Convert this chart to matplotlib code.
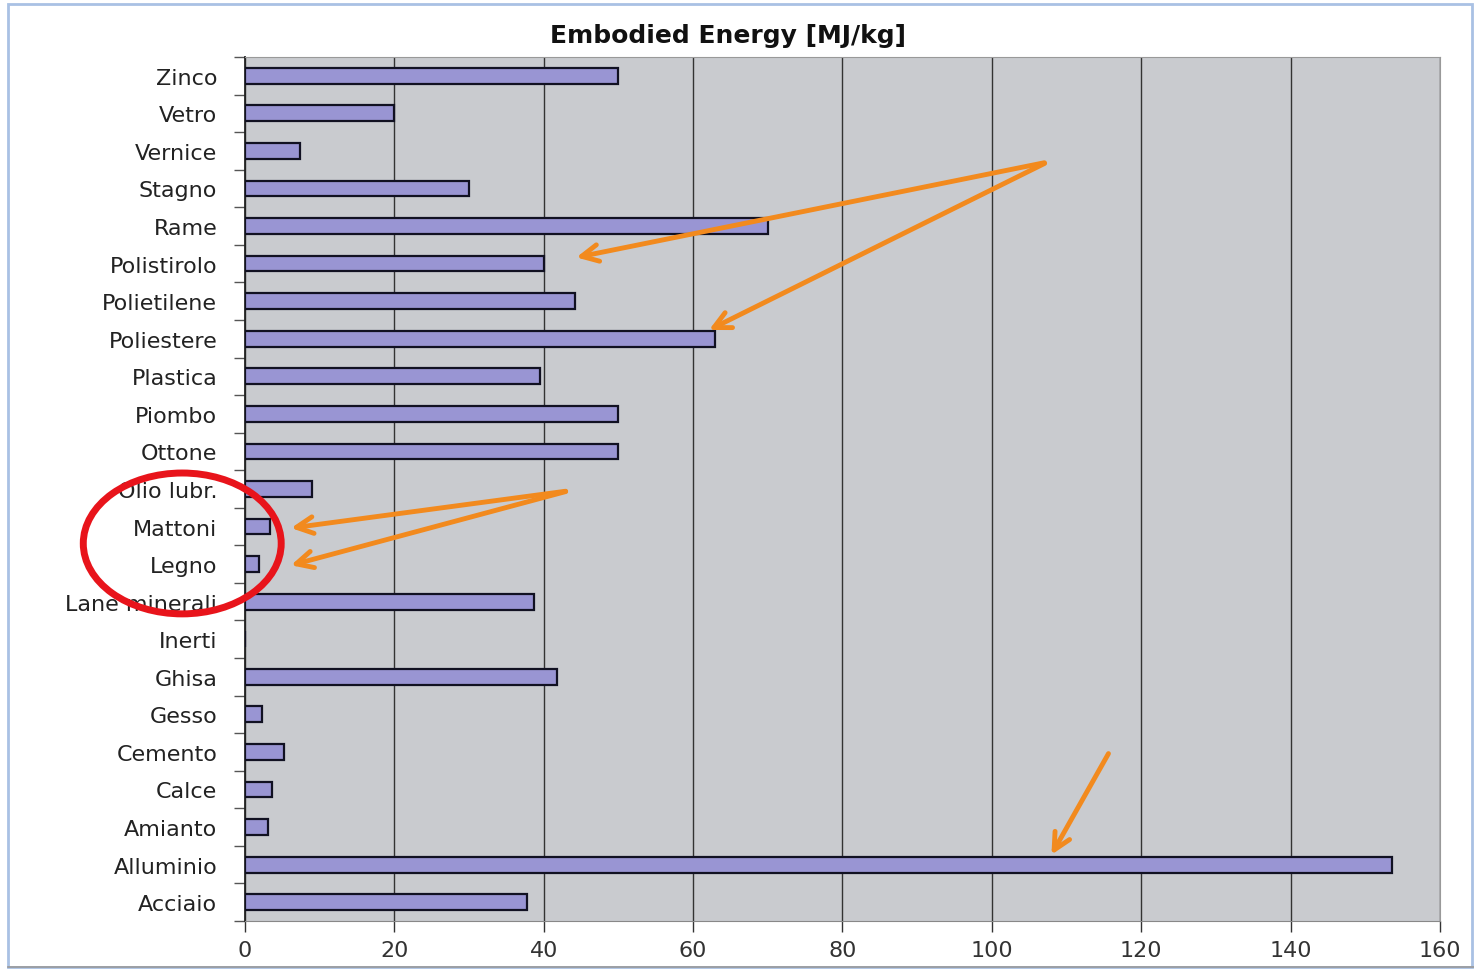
import matplotlib
matplotlib.use("Agg")
import matplotlib.pyplot as plt
from matplotlib.patches import Ellipse, Rectangle

# Materials, top to bottom as in the chart
materials = ["Zinco", "Vetro", "Vernice", "Stagno", "Rame", "Polistirolo",
             "Polietilene", "Poliestere", "Plastica", "Piombo", "Ottone",
             "Olio lubr.", "Mattoni", "Legno", "Lane minerali", "Inerti",
             "Ghisa", "Gesso", "Cemento", "Calce", "Amianto", "Alluminio",
             "Acciaio"]
energy = [50, 20, 7.4, 30, 70, 40, 44.2, 63, 39.5, 50, 50, 9, 3.4, 1.9,
          38.7, 0, 41.8, 2.3, 5.2, 3.6, 3.1, 153.6, 37.8]
x_ticks = [0, 20, 40, 60, 80, 100, 120, 140, 160]

# Arrows added on top of the chart: (tail x, tail y) -> (head x, head y) in data units
arrows = [((107.4, 2.3), (44.0, 4.85)),
          ((107.4, 2.3), (61.8, 6.8)),
          ((43.3, 11.05), (5.8, 12.05)),
          ((43.3, 11.05), (5.8, 13.05)),
          ((115.8, 17.98), (107.8, 20.8))]

fig = plt.figure(figsize=(14.74, 9.78), dpi=100)
ax = fig.add_axes([0.1662, 0.0573, 0.8107, 0.8834])

pos = list(range(len(materials)))
ax.barh(pos, energy, height=0.42, color="#9995d3", edgecolor="#111122",
        linewidth=1.6, zorder=3)

ax.set_facecolor("#c9cbcf")
ax.set_xlim(0, 160)
ax.set_ylim(len(materials) - 0.5, -0.5)
ax.set_xticks(x_ticks)
ax.set_xticklabels([str(t) for t in x_ticks], fontsize=16, color="#333333")
ax.set_yticks(pos)
ax.set_yticklabels(materials, fontsize=16, color="#222222")
ax.set_yticks([p + 0.5 for p in pos[:-1]] + [-0.5, len(materials) - 0.5], minor=True)
ax.tick_params(axis="y", which="major", length=0, pad=20)
ax.tick_params(axis="y", which="minor", length=8, width=1, color="#555555")
ax.tick_params(axis="x", length=8, width=1, color="#333333", pad=6)
ax.grid(axis="x", color="#333333", linewidth=1.0, zorder=1)
ax.set_axisbelow(True)

ax.spines["left"].set_color("#222222")
ax.spines["left"].set_linewidth(1.3)
ax.spines["bottom"].set_color("#888888")
ax.spines["top"].set_color("#999999")
ax.spines["right"].set_color("#999999")

fig.suptitle("Embodied Energy [MJ/kg]", x=0.494, y=0.975, fontsize=18,
             fontweight="bold", color="#111111")

# orange arrows
for (tail, head) in arrows:
    ax.annotate("", xy=head, xytext=tail,
                arrowprops=dict(arrowstyle="->,head_length=1.2,head_width=0.6",
                                color="#f28a1e", lw=3.5),
                zorder=5, annotation_clip=False)

# red ellipse around Mattoni / Legno
ax.add_patch(Ellipse((-8.4, 12.45), width=26.5, height=3.75, fill=False,
                     edgecolor="#e8141b", linewidth=5, clip_on=False, zorder=6))

# frame of the picture
fig.add_artist(Rectangle((8 / 1474, 1 - 968 / 978), 1464 / 1474, 963 / 978,
                         transform=fig.transFigure, fill=False,
                         edgecolor="#a9c1e4", linewidth=2))
fig.add_artist(plt.Line2D([8 / 1474, 1], [1 - 968 / 978, 1 - 968 / 978],
                          transform=fig.transFigure, color="#999999", linewidth=1.2))

fig.savefig("out.png", dpi=100)
